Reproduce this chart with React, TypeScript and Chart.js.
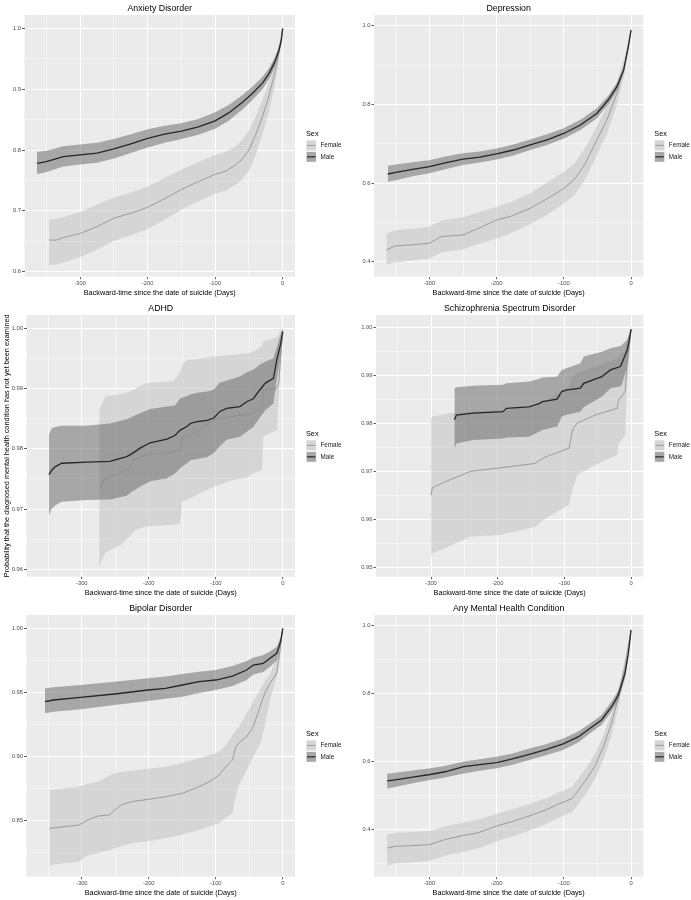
import React, { useEffect, useRef } from "react";
import { Chart, registerables } from "chart.js";

Chart.register(...registerables);

const FONT = '"Liberation Sans", Arial, sans-serif';

// ---------- shared axis text / ticks ----------
const xTitle = "Backward-time since the date of suicide (Days)";
const yTitle = "Probability that the diagnosed mental health condition has not yet been examined";
const sexLabels = ["Female", "Male"];
const legendTitle = "Sex";
const xTicks = [-350, -300, -250, -200, -150, -100, -50, 0];
const xMajor = 100;

// ---------- Anxiety Disorder ----------
const anxietyYTicks = [0.6, 0.65, 0.7, 0.75, 0.8, 0.85, 0.9, 0.95, 1.0];
const anxietyMaleDays = [-364, -350, -325, -300, -275, -250, -225, -200, -175, -150, -125, -100, -80, -60, -45, -30, -20, -12, -6, -2, 0];
const anxietyMale = [0.778, 0.781, 0.789, 0.792, 0.795, 0.802, 0.81, 0.819, 0.826, 0.831, 0.838, 0.848, 0.861, 0.878, 0.893, 0.91, 0.926, 0.944, 0.962, 0.98, 1.0];
const anxietyMaleHi = [0.797, 0.799, 0.806, 0.809, 0.812, 0.818, 0.826, 0.834, 0.84, 0.844, 0.851, 0.862, 0.874, 0.89, 0.904, 0.92, 0.935, 0.952, 0.968, 0.985, 1.0];
const anxietyMaleLo = [0.76, 0.764, 0.773, 0.776, 0.779, 0.786, 0.795, 0.804, 0.812, 0.818, 0.825, 0.835, 0.848, 0.866, 0.882, 0.9, 0.917, 0.936, 0.956, 0.975, 1.0];
const anxietyFemaleDays = [-346, -335, -325, -300, -275, -250, -225, -200, -175, -150, -125, -100, -85, -70, -60, -50, -40, -30, -20, -12, -6, -2, 0];
const anxietyFemale = [0.652, 0.652, 0.656, 0.663, 0.674, 0.688, 0.696, 0.706, 0.72, 0.735, 0.748, 0.76, 0.765, 0.775, 0.785, 0.8, 0.825, 0.855, 0.89, 0.925, 0.958, 0.985, 1.0];
const anxietyFemaleHi = [0.686, 0.687, 0.69, 0.698, 0.71, 0.722, 0.73, 0.74, 0.754, 0.768, 0.78, 0.792, 0.797, 0.806, 0.816, 0.832, 0.855, 0.882, 0.913, 0.945, 0.972, 0.992, 1.0];
const anxietyFemaleLo = [0.611, 0.612, 0.615, 0.624, 0.636, 0.651, 0.66, 0.67, 0.686, 0.702, 0.716, 0.728, 0.733, 0.743, 0.752, 0.766, 0.792, 0.826, 0.865, 0.905, 0.944, 0.977, 1.0];

// ---------- Depression ----------
const depressionYTicks = [0.4, 0.5, 0.6, 0.7, 0.8, 0.9, 1.0];
const depressionMaleDays = [-362, -350, -325, -300, -275, -250, -225, -200, -175, -150, -125, -100, -76, -51, -34, -21, -11, -4, 0];
const depressionMale = [0.623, 0.627, 0.635, 0.642, 0.652, 0.661, 0.666, 0.674, 0.684, 0.697, 0.71, 0.726, 0.747, 0.777, 0.811, 0.845, 0.887, 0.947, 0.989];
const depressionMaleHi = [0.644, 0.647, 0.653, 0.658, 0.668, 0.676, 0.68, 0.688, 0.698, 0.711, 0.724, 0.739, 0.76, 0.79, 0.822, 0.855, 0.895, 0.952, 0.99];
const depressionMaleLo = [0.603, 0.607, 0.617, 0.625, 0.636, 0.646, 0.652, 0.66, 0.67, 0.684, 0.697, 0.713, 0.734, 0.764, 0.8, 0.835, 0.879, 0.942, 0.988];
const depressionFemaleDays = [-364, -351, -325, -300, -282, -250, -227, -200, -178, -150, -128, -100, -83, -68, -51, -36, -21, -9, 0];
const depressionFemale = [0.43, 0.44, 0.443, 0.447, 0.464, 0.468, 0.485, 0.506, 0.516, 0.536, 0.557, 0.586, 0.612, 0.65, 0.709, 0.76, 0.828, 0.904, 0.989];
const depressionFemaleHi = [0.472, 0.48, 0.484, 0.489, 0.505, 0.513, 0.526, 0.54, 0.552, 0.574, 0.598, 0.629, 0.652, 0.69, 0.744, 0.795, 0.857, 0.925, 0.991];
const depressionFemaleLo = [0.393, 0.398, 0.403, 0.408, 0.424, 0.431, 0.445, 0.459, 0.473, 0.496, 0.516, 0.548, 0.572, 0.61, 0.672, 0.724, 0.798, 0.882, 0.986];

// ---------- ADHD ----------
const adhdYTicks = [0.96, 0.965, 0.97, 0.975, 0.98, 0.985, 0.99, 0.995, 1.0];
const adhdMaleDays = [-349, -345, -340, -330, -293, -258, -233, -225, -213, -198, -173, -161, -153, -143, -138, -128, -113, -103, -94, -84, -64, -54, -44, -34, -26, -14, -9, -3, 0];
const adhdMale = [0.9757, 0.9764, 0.977, 0.9776, 0.9778, 0.9779, 0.9787, 0.9792, 0.9801, 0.981, 0.9816, 0.9822, 0.9831, 0.9837, 0.9842, 0.9845, 0.9847, 0.9851, 0.9862, 0.9867, 0.987, 0.9878, 0.9883, 0.9898, 0.9909, 0.9917, 0.9947, 0.9975, 0.9995];
const adhdMaleHi = [0.9823, 0.9834, 0.9836, 0.9838, 0.9838, 0.9842, 0.9849, 0.9853, 0.9859, 0.9866, 0.987, 0.9872, 0.9884, 0.9887, 0.989, 0.9893, 0.9895, 0.9898, 0.991, 0.9913, 0.992, 0.9927, 0.9931, 0.994, 0.9945, 0.995, 0.9968, 0.999, 1.0];
const adhdMaleLo = [0.9689, 0.97, 0.9706, 0.9712, 0.9715, 0.9716, 0.9722, 0.9729, 0.9737, 0.9746, 0.9751, 0.9759, 0.9768, 0.9776, 0.9781, 0.9783, 0.9786, 0.9793, 0.9804, 0.9815, 0.982, 0.9828, 0.9836, 0.9852, 0.9864, 0.9875, 0.9915, 0.9955, 0.999];
const adhdFemaleDays = [-274, -265, -243, -228, -220, -203, -163, -153, -150, -143, -123, -103, -74, -54, -44, -31, -29, -9, -6, -3, 0];
const adhdFemale = [0.9734, 0.9751, 0.9759, 0.9768, 0.9784, 0.979, 0.9795, 0.9798, 0.9818, 0.9822, 0.9831, 0.9848, 0.9854, 0.9857, 0.9859, 0.987, 0.9898, 0.99, 0.9909, 0.9953, 0.9992];
const adhdFemaleHi = [0.9864, 0.9887, 0.989, 0.9895, 0.99, 0.9909, 0.9912, 0.9928, 0.994, 0.9947, 0.995, 0.9953, 0.9956, 0.9958, 0.9961, 0.997, 0.9978, 0.9985, 0.999, 0.9998, 1.0];
const adhdFemaleLo = [0.9604, 0.9627, 0.964, 0.9655, 0.9665, 0.9671, 0.9674, 0.9677, 0.9712, 0.9715, 0.9726, 0.9737, 0.9748, 0.9752, 0.9759, 0.9765, 0.982, 0.9831, 0.9887, 0.9945, 0.9986];

// ---------- Schizophrenia Spectrum Disorder ----------
const schizoYTicks = [0.95, 0.955, 0.96, 0.965, 0.97, 0.975, 0.98, 0.985, 0.99, 0.995, 1.0];
const schizoMaleDays = [-265, -262, -237, -192, -187, -153, -138, -133, -111, -104, -98, -76, -71, -44, -31, -16, -14, -6, -2, 0];
const schizoMale = [0.9808, 0.9818, 0.9822, 0.9825, 0.9832, 0.9835, 0.9842, 0.9846, 0.9851, 0.9867, 0.987, 0.9874, 0.9884, 0.9898, 0.9912, 0.9919, 0.9926, 0.9953, 0.998, 0.9997];
const schizoMaleHi = [0.9874, 0.9876, 0.9879, 0.9881, 0.9884, 0.9888, 0.9893, 0.9896, 0.9898, 0.9912, 0.9915, 0.9926, 0.994, 0.995, 0.9957, 0.9962, 0.9964, 0.9975, 0.9992, 1.0];
const schizoMaleLo = [0.9748, 0.9759, 0.9766, 0.9769, 0.9771, 0.9773, 0.9783, 0.9787, 0.9794, 0.9815, 0.9818, 0.9825, 0.9835, 0.9856, 0.9874, 0.9878, 0.9881, 0.9919, 0.996, 0.999];
const schizoFemaleDays = [-300, -298, -272, -240, -197, -145, -128, -93, -88, -81, -54, -21, -19, -9, -6, -2, 0];
const schizoFemale = [0.9651, 0.9667, 0.9683, 0.9701, 0.9708, 0.9717, 0.9731, 0.9749, 0.9787, 0.9801, 0.9818, 0.9832, 0.9849, 0.9867, 0.9933, 0.9975, 0.9995];
const schizoFemaleHi = [0.9811, 0.9815, 0.9822, 0.9825, 0.9828, 0.9835, 0.9849, 0.9877, 0.9898, 0.9905, 0.9919, 0.9936, 0.994, 0.9953, 0.9975, 0.9992, 1.0];
const schizoFemaleLo = [0.9523, 0.953, 0.9545, 0.9565, 0.9568, 0.9585, 0.9603, 0.9631, 0.9662, 0.9693, 0.9714, 0.9735, 0.9756, 0.9776, 0.9877, 0.995, 0.9985];

// ---------- Bipolar Disorder ----------
const bipolarYTicks = [0.825, 0.85, 0.875, 0.9, 0.925, 0.95, 0.975, 1.0];
const bipolarMaleDays = [-355, -342, -302, -251, -201, -175, -150, -125, -100, -75, -54, -44, -29, -19, -9, -3, 0];
const bipolarMale = [0.9428, 0.9441, 0.9462, 0.9488, 0.9519, 0.9532, 0.9558, 0.9584, 0.9597, 0.9628, 0.9675, 0.9714, 0.9727, 0.9766, 0.9805, 0.99, 1.0];
const bipolarMaleHi = [0.9532, 0.954, 0.9558, 0.9584, 0.961, 0.9625, 0.9644, 0.9662, 0.9675, 0.9706, 0.9745, 0.977, 0.9792, 0.982, 0.9857, 0.993, 1.0];
const bipolarMaleLo = [0.9337, 0.935, 0.9368, 0.9402, 0.9433, 0.945, 0.9467, 0.9495, 0.9519, 0.955, 0.9597, 0.964, 0.966, 0.97, 0.975, 0.987, 0.999];
const bipolarFemaleDays = [-348, -327, -304, -291, -276, -259, -251, -241, -226, -201, -175, -150, -125, -105, -95, -85, -75, -70, -65, -54, -44, -34, -27, -19, -9, -4, 0];
const bipolarFemale = [0.844, 0.8453, 0.8466, 0.8505, 0.8536, 0.8544, 0.8583, 0.8622, 0.8648, 0.8666, 0.8687, 0.8713, 0.8765, 0.8817, 0.8856, 0.8921, 0.8973, 0.9077, 0.911, 0.9155, 0.9233, 0.9389, 0.9493, 0.9571, 0.9649, 0.9831, 1.0];
const bipolarFemaleHi = [0.8739, 0.875, 0.8765, 0.8785, 0.8804, 0.885, 0.8869, 0.888, 0.889, 0.8905, 0.8921, 0.895, 0.8986, 0.902, 0.9038, 0.909, 0.917, 0.92, 0.9233, 0.9337, 0.943, 0.952, 0.959, 0.964, 0.9779, 0.992, 1.0];
const bipolarFemaleLo = [0.8154, 0.8165, 0.818, 0.823, 0.8245, 0.827, 0.8284, 0.83, 0.8323, 0.834, 0.8362, 0.839, 0.8427, 0.8465, 0.8479, 0.852, 0.8557, 0.87, 0.8778, 0.8895, 0.9, 0.91, 0.9233, 0.9441, 0.962, 0.978, 0.999];

// ---------- Any Mental Health Condition ----------
const anyYTicks = [0.3, 0.4, 0.5, 0.6, 0.7, 0.8, 0.9, 1.0];
const anyMaleDays = [-363, -351, -325, -299, -277, -249, -225, -200, -178, -150, -128, -101, -78, -61, -44, -29, -19, -9, -4, 0];
const anyMale = [0.542, 0.545, 0.553, 0.561, 0.569, 0.584, 0.59, 0.596, 0.606, 0.621, 0.633, 0.651, 0.672, 0.697, 0.721, 0.76, 0.794, 0.858, 0.917, 0.985];
const anyMaleHi = [0.563, 0.566, 0.573, 0.579, 0.586, 0.599, 0.606, 0.613, 0.622, 0.638, 0.649, 0.667, 0.688, 0.711, 0.735, 0.775, 0.808, 0.873, 0.927, 0.988];
const anyMaleLo = [0.52, 0.524, 0.535, 0.545, 0.552, 0.564, 0.572, 0.579, 0.589, 0.604, 0.617, 0.633, 0.656, 0.682, 0.706, 0.746, 0.78, 0.843, 0.907, 0.982];
const anyFemaleDays = [-363, -351, -325, -300, -277, -249, -227, -200, -178, -150, -128, -108, -88, -78, -68, -54, -41, -29, -19, -9, 0];
const anyFemale = [0.345, 0.35, 0.352, 0.355, 0.37, 0.382, 0.39, 0.41, 0.422, 0.44, 0.456, 0.474, 0.49, 0.515, 0.542, 0.585, 0.643, 0.712, 0.787, 0.88, 0.985];
const anyFemaleHi = [0.385, 0.39, 0.392, 0.395, 0.408, 0.42, 0.428, 0.446, 0.458, 0.475, 0.49, 0.508, 0.524, 0.55, 0.578, 0.62, 0.676, 0.742, 0.812, 0.898, 0.988];
const anyFemaleLo = [0.294, 0.3, 0.303, 0.307, 0.322, 0.335, 0.344, 0.364, 0.378, 0.397, 0.414, 0.434, 0.45, 0.475, 0.503, 0.546, 0.604, 0.676, 0.756, 0.858, 0.982];

// ---------- styles ----------
const PANEL_BG = "#EBEBEB";
const FEMALE_FILL = "rgba(195,195,195,0.55)";
const MALE_FILL = "rgba(100,100,100,0.5)";
const FEMALE_LINE = "#8c8c8c";
const MALE_LINE = "#262626";

type PanelDef = {
  title: string;
  left: number;
  top: number;
  width: number;
  plotLeft: number;
  plotRight: number;
  yMin: number;
  yMax: number;
  yTicks: number[];
  yMajor: number;
  yDecimals: number;
  showYTitle: boolean;
  femaleDays: number[];
  female: number[];
  femaleHi: number[];
  femaleLo: number[];
  maleDays: number[];
  male: number[];
  maleHi: number[];
  maleLo: number[];
};

const panels: PanelDef[] = [
  {
    title: "Anxiety Disorder", left: 0, top: 0, width: 345, plotLeft: 24.5, plotRight: 295,
    yMin: 0.5918, yMax: 1.0219, yTicks: anxietyYTicks, yMajor: 0.1, yDecimals: 1, showYTitle: false,
    femaleDays: anxietyFemaleDays, female: anxietyFemale, femaleHi: anxietyFemaleHi, femaleLo: anxietyFemaleLo,
    maleDays: anxietyMaleDays, male: anxietyMale, maleHi: anxietyMaleHi, maleLo: anxietyMaleLo,
  },
  {
    title: "Depression", left: 345, top: 0, width: 346, plotLeft: 29, plotRight: 298.3,
    yMin: 0.3619, yMax: 1.0272, yTicks: depressionYTicks, yMajor: 0.2, yDecimals: 1, showYTitle: false,
    femaleDays: depressionFemaleDays, female: depressionFemale, femaleHi: depressionFemaleHi, femaleLo: depressionFemaleLo,
    maleDays: depressionMaleDays, male: depressionMale, maleHi: depressionMaleHi, maleLo: depressionMaleLo,
  },
  {
    title: "ADHD", left: 0, top: 300, width: 345, plotLeft: 26.5, plotRight: 295,
    yMin: 0.95877, yMax: 1.0022, yTicks: adhdYTicks, yMajor: 0.01, yDecimals: 2, showYTitle: true,
    femaleDays: adhdFemaleDays, female: adhdFemale, femaleHi: adhdFemaleHi, femaleLo: adhdFemaleLo,
    maleDays: adhdMaleDays, male: adhdMale, maleHi: adhdMaleHi, maleLo: adhdMaleLo,
  },
  {
    title: "Schizophrenia Spectrum Disorder", left: 345, top: 300, width: 346, plotLeft: 31, plotRight: 298.3,
    yMin: 0.94813, yMax: 1.00264, yTicks: schizoYTicks, yMajor: 0.01, yDecimals: 2, showYTitle: false,
    femaleDays: schizoFemaleDays, female: schizoFemale, femaleHi: schizoFemaleHi, femaleLo: schizoFemaleLo,
    maleDays: schizoMaleDays, male: schizoMale, maleHi: schizoMaleHi, maleLo: schizoMaleLo,
  },
  {
    title: "Bipolar Disorder", left: 0, top: 600, width: 345, plotLeft: 26.5, plotRight: 295,
    yMin: 0.8063, yMax: 1.0104, yTicks: bipolarYTicks, yMajor: 0.05, yDecimals: 2, showYTitle: false,
    femaleDays: bipolarFemaleDays, female: bipolarFemale, femaleHi: bipolarFemaleHi, femaleLo: bipolarFemaleLo,
    maleDays: bipolarMaleDays, male: bipolarMale, maleHi: bipolarMaleHi, maleLo: bipolarMaleLo,
  },
  {
    title: "Any Mental Health Condition", left: 345, top: 600, width: 346, plotLeft: 29, plotRight: 298.3,
    yMin: 0.2608, yMax: 1.0294, yTicks: anyYTicks, yMajor: 0.2, yDecimals: 1, showYTitle: false,
    femaleDays: anyFemaleDays, female: anyFemale, femaleHi: anyFemaleHi, femaleLo: anyFemaleLo,
    maleDays: anyMaleDays, male: anyMale, maleHi: anyMaleHi, maleLo: anyMaleLo,
  },
];

const isMajor = (v: number, step: number) => Math.abs(v / step - Math.round(v / step)) < 1e-6;
const pts = (xs: number[], ys: number[]) => xs.map((x, i) => ({ x, y: ys[i] }));

const plotBg = {
  id: "plotBg",
  beforeDraw(chart: any) {
    const { ctx, chartArea: a } = chart;
    ctx.save();
    ctx.fillStyle = PANEL_BG;
    ctx.fillRect(a.left, a.top, a.right - a.left, a.bottom - a.top);
    ctx.restore();
  },
};

const ggLegend = {
  id: "ggLegend",
  afterDraw(chart: any) {
    const { ctx, chartArea: a } = chart;
    const x0 = a.right + 11;
    const cy = (a.top + a.bottom) / 2;
    const keyW = 10.5;
    const keyH = 11;
    ctx.save();
    ctx.textBaseline = "middle";
    ctx.textAlign = "left";
    ctx.fillStyle = "#000";
    ctx.font = `7.3px ${FONT}`;
    ctx.fillText(legendTitle, x0, cy - 12);
    const keys = [
      { top: cy - 6, fill: FEMALE_FILL, line: FEMALE_LINE, lw: 0.8, label: sexLabels[0] },
      { top: cy + 5.5, fill: MALE_FILL, line: MALE_LINE, lw: 1.2, label: sexLabels[1] },
    ];
    for (const k of keys) {
      ctx.fillStyle = "#F2F2F2";
      ctx.fillRect(x0, k.top, keyW, keyH);
      ctx.fillStyle = PANEL_BG;
      ctx.fillRect(x0 + 0.6, k.top + 0.6, keyW - 1.2, keyH - 1.2);
      ctx.fillStyle = k.fill;
      ctx.fillRect(x0 + 0.6, k.top + 0.6, keyW - 1.2, keyH - 1.2);
      ctx.strokeStyle = k.line;
      ctx.lineWidth = k.lw;
      ctx.beginPath();
      ctx.moveTo(x0 + 1, k.top + keyH / 2);
      ctx.lineTo(x0 + keyW - 1, k.top + keyH / 2);
      ctx.stroke();
      ctx.fillStyle = "#1a1a1a";
      ctx.font = `6.3px ${FONT}`;
      ctx.fillText(k.label, x0 + 14.5, k.top + keyH / 2);
    }
    ctx.restore();
  },
};

function makeConfig(p: PanelDef): any {
  const line = (label: string, xs: number[], ys: number[], color: string, width: number) => ({
    label, data: pts(xs, ys), borderColor: color, borderWidth: width, pointRadius: 0,
    fill: false, tension: 0,
  });
  const edge = (label: string, xs: number[], ys: number[], fill: any, bg: string) => ({
    label, data: pts(xs, ys), borderColor: "rgba(0,0,0,0)", borderWidth: 0, pointRadius: 0,
    fill, backgroundColor: bg, tension: 0,
  });
  return {
    type: "line",
    data: {
      datasets: [
        line("Male", p.maleDays, p.male, MALE_LINE, 1.3),
        line("Female", p.femaleDays, p.female, FEMALE_LINE, 0.8),
        edge("Male upper", p.maleDays, p.maleHi, "+1", MALE_FILL),
        edge("Male lower", p.maleDays, p.maleLo, false, "rgba(0,0,0,0)"),
        edge("Female upper", p.femaleDays, p.femaleHi, "+1", FEMALE_FILL),
        edge("Female lower", p.femaleDays, p.femaleLo, false, "rgba(0,0,0,0)"),
      ],
    },
    options: {
      responsive: false,
      animation: false,
      devicePixelRatio: 1,
      layout: { padding: { left: 0, top: 0, bottom: 0, right: p.width - p.plotRight } },
      plugins: {
        legend: { display: false },
        tooltip: { enabled: false },
        title: {
          display: true, text: p.title, fullSize: false, color: "#000",
          font: { family: FONT, size: 8.8, weight: "normal", lineHeight: 1.2 },
          padding: { top: 3, bottom: 1.44 },
        },
      },
      scales: {
        x: {
          type: "linear", min: -382.5, max: 18.25,
          afterBuildTicks: (s: any) => { s.ticks = xTicks.map((v) => ({ value: v })); },
          afterFit: (s: any) => { s.height = 23.3; },
          border: { display: false },
          grid: {
            color: "#FFFFFF",
            lineWidth: (c: any) => (c.tick && isMajor(c.tick.value, xMajor) ? 1 : 0.5),
            tickLength: 2.5,
            tickColor: (c: any) => (c.tick && isMajor(c.tick.value, xMajor) ? "#333333" : "rgba(0,0,0,0)"),
            tickWidth: 0.8,
          },
          ticks: {
            autoSkip: false, maxRotation: 0, padding: 1.0, color: "#4D4D4D",
            font: { family: FONT, size: 5.8 },
            callback: (v: any) => (isMajor(Number(v), xMajor) ? String(Math.round(Number(v))) : ""),
          },
          title: {
            display: true, text: xTitle, color: "#000",
            font: { family: FONT, size: 7.3, lineHeight: 1.2 },
            padding: { top: 0, bottom: 2.9 },
          },
        },
        y: {
          type: "linear", min: p.yMin, max: p.yMax,
          afterBuildTicks: (s: any) => { s.ticks = p.yTicks.map((v) => ({ value: v })); },
          afterFit: (s: any) => { s.width = p.plotLeft; },
          border: { display: false },
          grid: {
            color: "#FFFFFF",
            lineWidth: (c: any) => (c.tick && isMajor(c.tick.value, p.yMajor) ? 1 : 0.5),
            tickLength: 2.5,
            tickColor: (c: any) => (c.tick && isMajor(c.tick.value, p.yMajor) ? "#333333" : "rgba(0,0,0,0)"),
            tickWidth: 0.8,
          },
          ticks: {
            autoSkip: false, padding: 1, color: "#4D4D4D",
            font: { family: FONT, size: 5.8 },
            callback: (v: any) => (isMajor(Number(v), p.yMajor) ? Number(v).toFixed(p.yDecimals) : ""),
          },
          title: {
            display: p.showYTitle, text: yTitle, color: "#000",
            font: { family: FONT, size: 7.3, lineHeight: 1.2 },
            padding: { top: 2.3, bottom: 0 },
          },
        },
      },
    },
    plugins: [plotBg, ggLegend],
  };
}

function Panel({ p }: { p: PanelDef }) {
  const ref = useRef<HTMLCanvasElement | null>(null);
  useEffect(() => {
    if (!ref.current) return;
    const chart = new Chart(ref.current, makeConfig(p));
    return () => chart.destroy();
  }, [p]);
  return (
    <canvas
      ref={ref}
      width={p.width}
      height={300}
      style={{ position: "absolute", left: p.left, top: p.top, width: p.width, height: 300, display: "block" }}
    />
  );
}

export default function App() {
  return (
    <div style={{ position: "absolute", left: 0, top: 0, width: 691, height: 900, background: "#FFFFFF" }}>
      {panels.map((p) => (
        <Panel key={p.title} p={p} />
      ))}
    </div>
  );
}
